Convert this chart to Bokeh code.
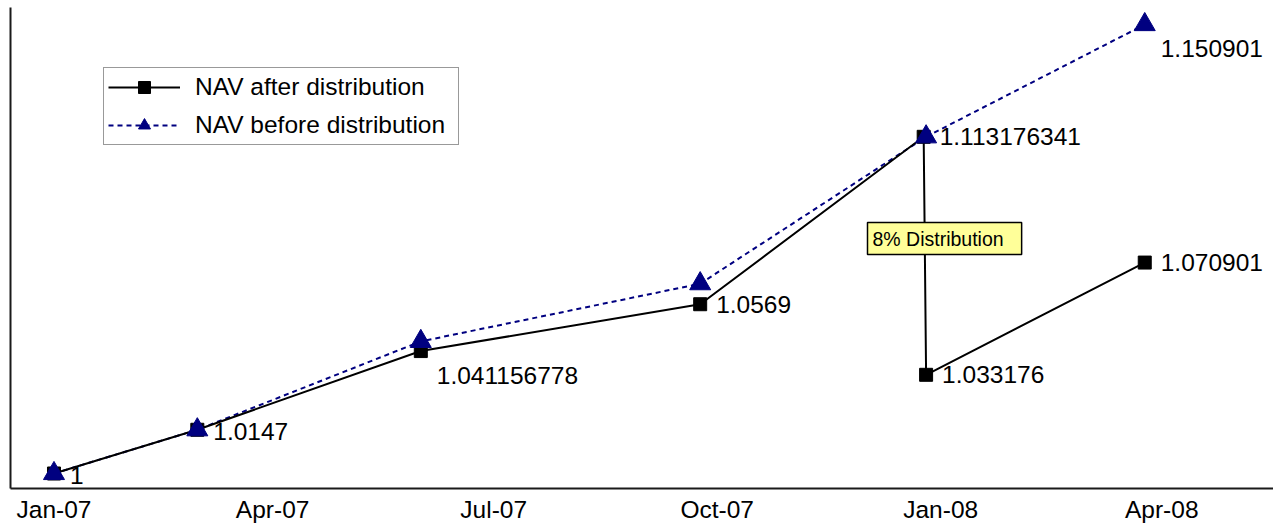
import pandas as pd
from bokeh.plotting import figure
from bokeh.models import (ColumnDataSource, FixedTicker, DatetimeTickFormatter,
                          Legend, LegendItem, Label, Range1d)
from bokeh.core.properties import value
from bokeh.embed import file_html
from bokeh.resources import INLINE

# ---- data ----
after_dates = ["2007-01-01", "2007-03-01", "2007-06-01", "2007-09-24",
               "2007-12-25", "2007-12-26", "2008-03-25"]
after_nav = [1.0, 1.0147, 1.041156778, 1.0569, 1.113176341, 1.033176, 1.070901]

before_dates = ["2007-01-01", "2007-03-01", "2007-06-01", "2007-09-24",
                "2007-12-26", "2008-03-25"]
before_nav = [1.0, 1.0147, 1.0444, 1.0638, 1.113176341, 1.150901]

tick_dates = ["2007-01-01", "2007-04-01", "2007-07-01", "2007-10-01",
              "2008-01-01", "2008-04-01"]
tick_labels = ["Jan-07", "Apr-07", "Jul-07", "Oct-07", "Jan-08", "Apr-08"]

series_names = ["NAV after distribution", "NAV before distribution"]
annotation_text = "8% Distribution"

# ---- styling ----
FONT = "Liberation Sans"
NAVY = "#000080"
FS = "24.5px"

a_x = pd.to_datetime(after_dates)
b_x = pd.to_datetime(before_dates)

x_start = pd.Timestamp("2007-01-01") - pd.Timedelta(days=17.9)
x_end = pd.Timestamp("2007-01-01") + pd.Timedelta(days=502.0)

p = figure(width=1273, height=525, x_axis_type="datetime",
           x_range=Range1d(x_start, x_end), y_range=Range1d(0.99496, 1.15664),
           output_backend="svg", toolbar_location=None,
           min_border_left=10, min_border_right=0, min_border_top=7,
           min_border_bottom=0)
p.grid.visible = False
p.outline_line_color = None
p.background_fill_color = "white"
p.border_fill_color = "white"

# x axis
tick_ms = [int(pd.Timestamp(d).value // 10**6) for d in tick_dates]
p.xaxis.ticker = FixedTicker(ticks=tick_ms)
fmt = "%b-%y"
p.xaxis.formatter = DatetimeTickFormatter(
    milliseconds=fmt, seconds=fmt, minsec=fmt, minutes=fmt, hourmin=fmt,
    hours=fmt, days=fmt, months=fmt, years=fmt)
p.xaxis.major_label_overrides = {t: l for t, l in zip(tick_ms, tick_labels)}
p.xaxis.major_tick_out = 0
p.xaxis.major_tick_in = 0
p.xaxis.minor_tick_out = 0
p.xaxis.minor_tick_in = 0
p.xaxis.axis_line_width = 2
p.xaxis.axis_line_color = "#1a1a1a"
p.xaxis.major_label_text_font = FONT
p.xaxis.major_label_text_font_size = FS
p.xaxis.major_label_text_color = "black"
p.xaxis.major_label_standoff = 7

# y axis: line only
p.yaxis.ticker = FixedTicker(ticks=[])
p.yaxis.major_tick_out = 0
p.yaxis.major_tick_in = 0
p.yaxis.minor_tick_out = 0
p.yaxis.minor_tick_in = 0
p.yaxis.major_label_standoff = 0
p.yaxis.axis_line_width = 2
p.yaxis.axis_line_color = "#1a1a1a"

# series
src_a = ColumnDataSource(dict(x=a_x, y=after_nav))
src_b = ColumnDataSource(dict(x=b_x, y=before_nav))

line_b = p.line("x", "y", source=src_b, line_color=NAVY, line_width=2,
                line_dash="5 4")
line_a = p.line("x", "y", source=src_a, line_color="black", line_width=2)
mk_a = p.scatter("x", "y", source=src_a, marker="square", size=13,
                 fill_color="black", line_color="black")
mk_b = p.scatter("x", "y", source=src_b, marker="triangle", size=21,
                 fill_color=NAVY, line_color=NAVY)

# data labels
lab_x = list(a_x) + [b_x[-1]]
lab_y = list(after_nav) + [before_nav[-1]]
lab_t = ["%.10g" % v for v in lab_y]
lab_dy = [2, 2, 24, 0, 0, 0, 0, 24]
src_l = ColumnDataSource(dict(x=lab_x, y=lab_y, t=lab_t, dy=lab_dy))
p.text("x", "y", text="t", source=src_l, x_offset=16, y_offset="dy",
       text_align="left", text_baseline="middle",
       text_font=value(FONT), text_font_size=FS, text_color="black")

# legend
legend = Legend(items=[
    LegendItem(label=series_names[0], renderers=[line_a, mk_a]),
    LegendItem(label=series_names[1], renderers=[line_b, mk_b]),
], location=(93, 343))
legend.label_text_font = FONT
legend.label_text_font_size = FS
legend.label_text_color = "black"
legend.glyph_width = 72
legend.glyph_height = 30
legend.label_height = 30
legend.label_width = 259
legend.label_standoff = 15
legend.spacing = 8
legend.padding = 4
legend.margin = 0
legend.border_line_color = "#333333"
legend.border_line_width = 1
legend.background_fill_color = "white"
legend.background_fill_alpha = 1
p.add_layout(legend)

# annotation box
note = Label(x=857, y=234, x_units="screen", y_units="screen",
             text=annotation_text, text_font=FONT, text_font_size="19.5px",
             text_color="black", text_align="left", text_baseline="bottom",
             padding=dict(left=5, right=18, top=5, bottom=5),
             background_fill_color="#FFFF99",
             border_line_color="black", border_line_width=1.5)
p.add_layout(note)

open("out.html", "w").write(file_html(p, INLINE))
